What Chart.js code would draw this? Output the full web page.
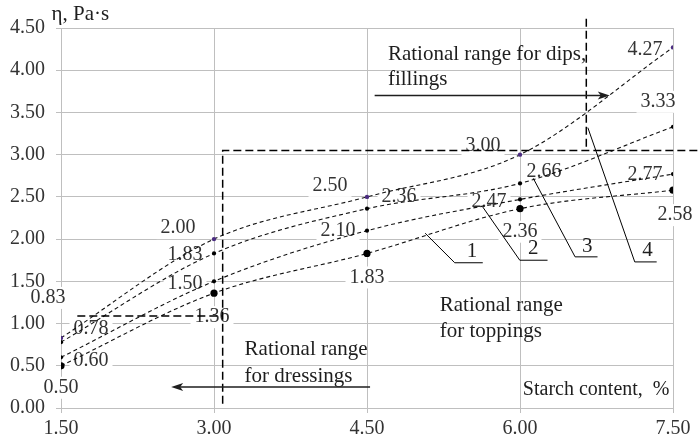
<!DOCTYPE html>
<html lang="en">
<head>
<meta charset="UTF-8">
<title>Viscosity vs starch content</title>
<script src="https://cdn.jsdelivr.net/npm/chart.js@4"></script>
<style>
  html, body { margin: 0; padding: 0; background: #fff; }
  .chart-container { width: 700px; height: 440px; }
</style>
</head>
<body>
<div class="chart-container"><canvas id="viscosityChart" width="700" height="440"></canvas></div>
<script>
// Starch content, %
const starch = [1.5, 3.0, 4.5, 6.0, 7.5];

// Viscosity η, Pa·s (curves 1..4)
const curve1 = [0.50, 1.36, 1.83, 2.36, 2.58];
const curve2 = [0.60, 1.50, 2.10, 2.47, 2.77];
const curve3 = [0.78, 1.83, 2.36, 2.66, 3.33];
const curve4 = [0.83, 2.00, 2.50, 3.00, 4.27];

// tick labels
const xTicks = [1.5, 3.0, 4.5, 6.0, 7.5];
const yTicks = [0, 0.5, 1.0, 1.5, 2.0, 2.5, 3.0, 3.5, 4.0, 4.5];

// where each value label sits relative to its point (px)
const shift1 = [[0, 22], [-2, 24], [0, 24], [0, 23], [2, 25]];
const shift2 = [[30, 3], [-29, 2], [-29, 0], [-31, 2], [-28, 1]];
const shift3 = [[30, -13], [-29, 1], [32, -12], [24, -12], [-15, -25]];
const shift4 = [[-13, -40], [-36, -11], [-37, -11], [-37, -9], [-28, 2]];

const FONT = '20px "Liberation Serif", "Times New Roman", serif';
const CAPTION_FONT = '21px "Liberation Serif", "Times New Roman", serif';
const TEXT = '#1e1e1e';

function series(values, shift, radius, color) {
    return {
        data: starch.map((x, i) => ({ x: x, y: values[i] })),
        labelShift: shift,
        borderColor: '#111',
        borderWidth: 1.1,
        borderDash: [4, 3],
        cubicInterpolationMode: 'monotone',
        pointRadius: radius,
        pointBackgroundColor: color,
        pointBorderColor: color,
        pointBorderWidth: 0,
        fill: false
    };
}

// labels under the curves, guides / arrows / captions on top
const annotations = {
    id: 'annotations',
    beforeDatasetsDraw(chart) {
        const ctx = chart.ctx;
        ctx.save();
        ctx.font = FONT;
        ctx.textAlign = 'center';
        ctx.textBaseline = 'middle';
        chart.data.datasets.forEach((ds, di) => {
            chart.getDatasetMeta(di).data.forEach((pt, i) => {
                const text = ds.data[i].y.toFixed(2);
                const cx = pt.x + ds.labelShift[i][0];
                const cy = pt.y + ds.labelShift[i][1];
                const w = ctx.measureText(text).width + 8;
                ctx.fillStyle = '#fff';
                ctx.fillRect(cx - w / 2, cy - 11, w, 22);
                ctx.fillStyle = '#333';
                ctx.fillText(text, cx, cy);
            });
        });
        ctx.restore();
    },
    afterDatasetsDraw(chart) {
        const ctx = chart.ctx;
        const sx = chart.scales.x, sy = chart.scales.y;
        const X = v => sx.getPixelForValue(v);
        const Y = v => sy.getPixelForValue(v);

        ctx.save();

        // dashed boundaries of the rational ranges
        ctx.strokeStyle = '#000';
        ctx.lineWidth = 1.5;
        ctx.setLineDash([8, 4]);
        ctx.beginPath();
        ctx.moveTo(X(1.66), Y(1.09));
        ctx.lineTo(X(3.085), Y(1.09));
        ctx.moveTo(X(3.085), Y(0.05));
        ctx.lineTo(X(3.085), Y(3.05));
        ctx.lineTo(chart.width, Y(3.05));
        ctx.moveTo(X(6.65), Y(4.61));
        ctx.lineTo(X(6.65), Y(3.05));
        ctx.stroke();
        ctx.setLineDash([]);

        // arrows
        function arrow(x1, x2, yv) {
            const y = Y(yv), a = X(x1), b = X(x2);
            const dir = Math.sign(b - a);
            ctx.strokeStyle = TEXT;
            ctx.fillStyle = TEXT;
            ctx.lineWidth = 1.5;
            ctx.beginPath();
            ctx.moveTo(a, y);
            ctx.lineTo(b - dir * 6, y);
            ctx.stroke();
            ctx.beginPath();
            ctx.moveTo(b, y);
            ctx.lineTo(b - dir * 12, y - 4);
            ctx.lineTo(b - dir * 9, y);
            ctx.lineTo(b - dir * 12, y + 4);
            ctx.closePath();
            ctx.fill();
        }
        arrow(4.575, 6.88, 3.70);
        arrow(4.53, 2.58, 0.25);

        // leader lines to curve numbers
        const leaders = [
            ['1', [5.07, 2.07], [5.36, 1.72], 5.635, [5.53, 1.85]],
            ['2', [5.635, 2.38], [5.998, 1.75], 6.27, [6.13, 1.89]],
            ['3', [6.13, 2.72], [6.54, 1.79], 6.76, [6.66, 1.91]],
            ['4', [6.665, 3.32], [7.125, 1.73], 7.34, [7.25, 1.87]]
        ];
        ctx.strokeStyle = '#000';
        ctx.lineWidth = 1;
        ctx.font = CAPTION_FONT;
        ctx.fillStyle = TEXT;
        ctx.textAlign = 'center';
        ctx.textBaseline = 'middle';
        leaders.forEach(([label, p0, p1, xEnd, lp]) => {
            ctx.beginPath();
            ctx.moveTo(X(p0[0]), Y(p0[1]));
            ctx.lineTo(X(p1[0]), Y(p1[1]));
            ctx.lineTo(X(xEnd), Y(p1[1]));
            ctx.stroke();
            ctx.fillText(label, X(lp[0]), Y(lp[1]));
        });

        // captions (left edge, baseline)
        ctx.textAlign = 'left';
        ctx.textBaseline = 'alphabetic';
        const captions = [
            ['Rational range for dips,', 4.705, 4.12],
            ['fillings', 4.705, 3.825],
            ['Rational range', 3.30, 0.628],
            ['for dressings', 3.30, 0.311],
            ['Rational range', 5.213, 1.152],
            ['for toppings', 5.213, 0.844],
            ['η, Pa·s', 1.407, 4.595]
        ];
        captions.forEach(([t, x, y]) => ctx.fillText(t, X(x), Y(y)));

        // axis caption is a touch smaller
        ctx.font = FONT;
        ctx.fillText('Starch content,  %', X(6.028), Y(0.154));

        ctx.restore();
    }
};

const config = {
    type: 'line',
    data: {
        datasets: [
            series(curve1, shift1, 3.6, '#000'),
            series(curve2, shift2, 2.1, '#000'),
            series(curve3, shift3, 2.1, '#000'),
            series(curve4, shift4, 2.2, '#4b2c80')
        ]
    },
    options: {
        responsive: false,
        animation: false,
        layout: { padding: { top: 28, right: 27, left: 0, bottom: 0 } },
        plugins: {
            legend: { display: false },
            tooltip: { enabled: false }
        },
        scales: {
            x: {
                type: 'linear',
                min: 1.5,
                max: 7.5,
                afterFit: s => { s.height = 32; },
                afterBuildTicks: s => { s.ticks = xTicks.map(v => ({ value: v })); },
                grid: { color: '#bfbfbf', lineWidth: 1, tickLength: 5 },
                border: { color: '#bfbfbf' },
                ticks: {
                    padding: 4,
                    color: '#333',
                    font: { family: '"Liberation Serif", serif', size: 20 },
                    callback: v => v.toFixed(2)
                }
            },
            y: {
                min: 0,
                max: 4.5,
                afterFit: s => { s.width = 61; },
                afterBuildTicks: s => { s.ticks = yTicks.map(v => ({ value: v })); },
                grid: { color: '#bfbfbf', lineWidth: 1, tickLength: 5 },
                border: { color: '#bfbfbf' },
                ticks: {
                    padding: 11,
                    color: '#333',
                    font: { family: '"Liberation Serif", serif', size: 20 },
                    callback: v => v.toFixed(2)
                }
            }
        }
    },
    plugins: [annotations]
};

const viscosityChart = new Chart(document.getElementById('viscosityChart'), config);
</script>
</body>
</html>
